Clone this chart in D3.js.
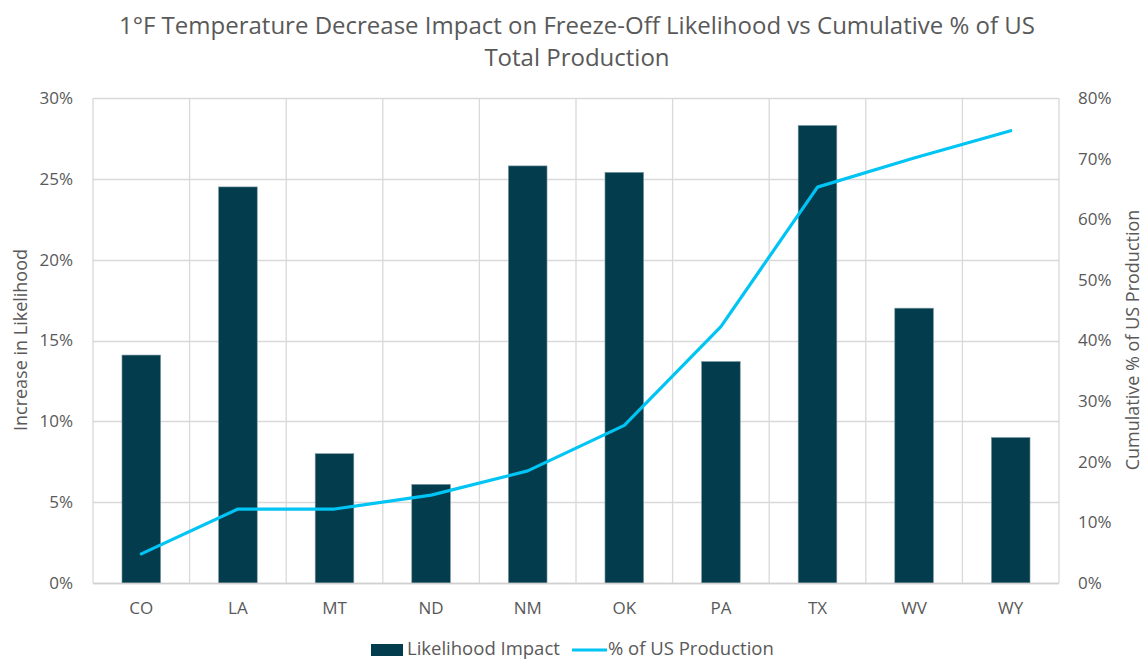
<!DOCTYPE html>
<html>
<head>
<meta charset="utf-8">
<script src="https://cdn.jsdelivr.net/npm/d3@7"></script>
<style>
  body { margin: 0; background: #fff; }
  svg text { font-family: "Open Sans", sans-serif; fill: #595959; }
</style>
</head>
<body>
<svg></svg>
<script>
var states = ["CO","LA","MT","ND","NM","OK","PA","TX","WV","WY"]
var likelihood = [0.141,0.245,0.080,0.061,0.258,0.254,0.137,0.283,0.170,0.090]
var cumProduction = [0.048,0.122,0.122,0.145,0.185,0.260,0.423,0.653,0.701,0.746]
var leftTicks = [0,0.05,0.10,0.15,0.20,0.25,0.30]
var rightTicks = [0,0.1,0.2,0.3,0.4,0.5,0.6,0.7,0.8]

var width = 1146, height = 660
var plotLeft = 93, plotRight = 1059, plotTop = 98, plotBottom = 583

var svg = d3.select("svg")
    .attr("width", width)
    .attr("height", height)

var xScale = d3.scaleBand()
    .domain(states)
    .range([plotLeft, plotRight])
    .paddingInner(0.6)
    .paddingOuter(0.3)

var yLeft = d3.scaleLinear().domain([0,0.30]).range([plotBottom, plotTop])
var yRight = d3.scaleLinear().domain([0,0.80]).range([plotBottom, plotTop])

// horizontal grid
svg.append("g")
    .selectAll("line")
    .data(leftTicks)
    .enter()
    .append("line")
    .attr("x1", plotLeft).attr("x2", plotRight)
    .attr("y1", d => Math.round(yLeft(d)) + 0.5)
    .attr("y2", d => Math.round(yLeft(d)) + 0.5)
    .attr("stroke", "#d9d9d9")
    .attr("stroke-width", 1.3)

// vertical grid on category boundaries
var step = (plotRight - plotLeft) / states.length
svg.append("g")
    .selectAll("line")
    .data(d3.range(states.length + 1))
    .enter()
    .append("line")
    .attr("x1", i => plotLeft + i * step).attr("x2", i => plotLeft + i * step)
    .attr("y1", plotTop).attr("y2", plotBottom)
    .attr("stroke", "#d9d9d9")
    .attr("stroke-width", 1.3)

// bars
svg.append("g")
    .selectAll("rect")
    .data(states)
    .enter()
    .append("rect")
    .attr("x", d => xScale(d))
    .attr("width", xScale.bandwidth())
    .attr("y", (d,i) => yLeft(likelihood[i]))
    .attr("height", (d,i) => plotBottom - yLeft(likelihood[i]))
    .attr("fill", "#033c4d")
    .attr("stroke", "#7f9aa3")
    .attr("stroke-width", 0.6)

// line
var line = d3.line()
    .x((d,i) => xScale(states[i]) + xScale.bandwidth()/2)
    .y(d => yRight(d))

svg.append("path")
    .datum(cumProduction)
    .attr("d", line)
    .attr("fill", "none")
    .attr("stroke", "#00c4f4")
    .attr("stroke-width", 3.2)
    .attr("stroke-linejoin", "round")
    .attr("stroke-linecap", "round")

// axes
var fmt = d3.format(".0%")
var leftAxis = svg.append("g")
    .attr("transform", "translate(" + (plotLeft - 20) + ",0)")
    .call(d3.axisLeft(yLeft).tickValues(leftTicks).tickFormat(fmt).tickSize(0))
var rightAxis = svg.append("g")
    .attr("transform", "translate(" + (plotRight + 19) + ",0)")
    .call(d3.axisRight(yRight).tickValues(rightTicks).tickFormat(fmt).tickSize(0))
var bottomAxis = svg.append("g")
    .attr("transform", "translate(0," + (plotBottom + 16) + ")")
    .call(d3.axisBottom(xScale).tickSize(0))

;[leftAxis, rightAxis, bottomAxis].forEach(function(g){
    g.select(".domain").remove()
    g.selectAll("text")
        .attr("font-size", 17)
        .attr("font-family", "Open Sans, sans-serif")
        .attr("fill", "#595959")
})
leftAxis.selectAll("text").attr("x", 0)
rightAxis.selectAll("text").attr("x", 0)

// bottom axis line slightly darker
svg.append("line")
    .attr("x1", plotLeft).attr("x2", plotRight)
    .attr("y1", plotBottom + 0.5).attr("y2", plotBottom + 0.5)
    .attr("stroke", "#d0d0d0")
    .attr("stroke-width", 1.5)

// title
var title = svg.append("text")
    .attr("text-anchor", "middle")
    .attr("font-size", 24)
title.append("tspan").attr("x", 577).attr("y", 34)
    .text("1°F Temperature Decrease Impact on Freeze-Off Likelihood vs Cumulative % of US")
title.append("tspan").attr("x", 577).attr("y", 66)
    .text("Total Production")

// axis titles
svg.append("text")
    .attr("transform", "translate(27,340) rotate(-90)")
    .attr("text-anchor", "middle")
    .attr("font-size", 18)
    .text("Increase in Likelihood")

svg.append("text")
    .attr("transform", "translate(1139,340) rotate(-90)")
    .attr("text-anchor", "middle")
    .attr("font-size", 18)
    .text("Cumulative % of US Production")

// legend
var legend = svg.append("g")
legend.append("rect")
    .attr("x", 371).attr("y", 644).attr("width", 32).attr("height", 12)
    .attr("fill", "#033c4d")
legend.append("text")
    .attr("x", 407).attr("y", 655)
    .attr("font-size", 18.5)
    .text("Likelihood Impact")
legend.append("line")
    .attr("x1", 572).attr("x2", 607).attr("y1", 650).attr("y2", 650)
    .attr("stroke", "#00c4f4").attr("stroke-width", 3)
legend.append("text")
    .attr("x", 608).attr("y", 655)
    .attr("font-size", 18.5)
    .text("% of US Production")
</script>
</body>
</html>
